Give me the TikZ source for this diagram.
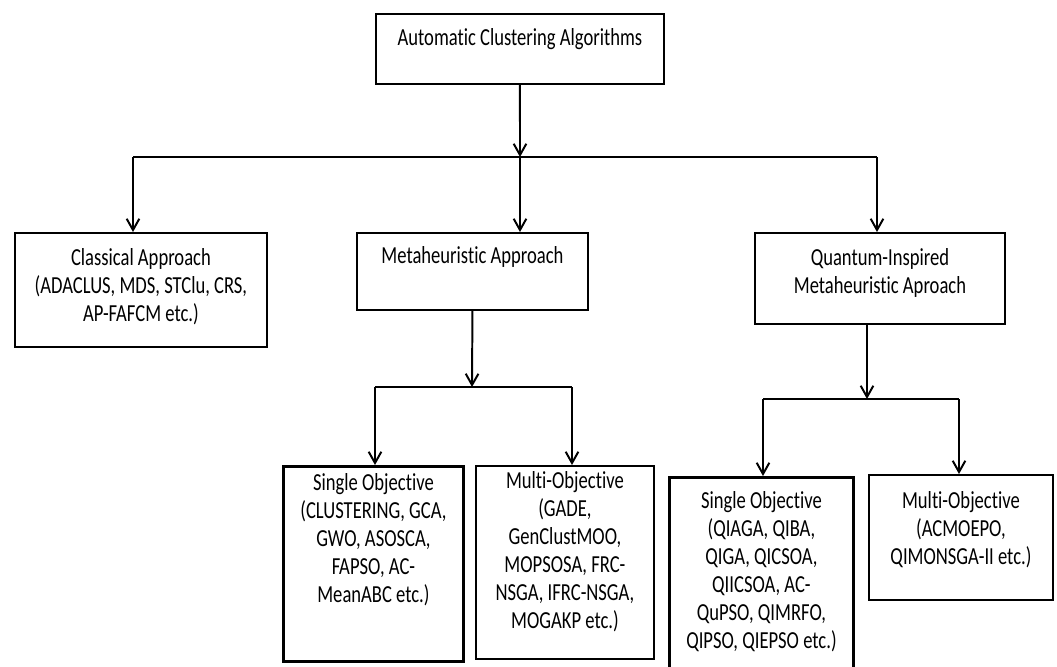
\documentclass[tikz,border=0pt]{standalone}
\usepackage{fontspec}
\setmainfont{Carlito}[Ligatures=NoCommon, FakeStretch=0.76]
\usetikzlibrary{arrows.meta}
\newcommand{\boxtext}[4]{\parbox[c][#2][t]{#1}{\centering\vspace*{#3}#4\par}}

\begin{document}
\begin{tikzpicture}[x=0.025cm, y=-0.025cm,
	box/.style={draw, line width=1.3pt, inner sep=0pt, anchor=north west},
	thickbox/.style={box, line width=2pt},
	link/.style={line width=1.4pt},
	arr/.style={link, -{Straight Barb[length=8pt, width=9pt]}},
	font=\fontsize{17.4}{19.9}\selectfont]
	\useasboundingbox (0,0) rectangle (1057,666);

	% Define the boxes with specific positions
	\node[box] (root) at (375,13) {\boxtext{7.2cm}{1.75cm}{10.3pt}{Automatic Clustering Algorithms}};
	\node[box] (classical) at (14,232) {\boxtext{6.3cm}{2.85cm}{11.1pt}{Classical Approach\\(ADACLUS, MDS, STClu, CRS,\\AP-FAFCM etc.)}};
	\node[box] (meta) at (356,232) {\boxtext{5.775cm}{1.925cm}{9.7pt}{Metaheuristic Approach}};
	\node[box] (quantum) at (754,232) {\boxtext{6.25cm}{2.275cm}{11.1pt}{Quantum-Inspired\\Metaheuristic Aproach}};
	\node[thickbox] (msingle) at (282,465) {\boxtext{4.5cm}{4.875cm}{5.3pt}{Single Objective\\(CLUSTERING, GCA,\\GWO, ASOSCA,\\FAPSO, AC-\\MeanABC etc.)}};
	\node[box] (mmulti) at (475,465) {\boxtext{4.45cm}{4.825cm}{4pt}{Multi-Objective\\(GADE,\\GenClustMOO,\\MOPSOSA, FRC-\\NSGA, IFRC-NSGA,\\MOGAKP etc.)}};
	\node[thickbox] (qsingle) at (668,476) {\boxtext{4.6cm}{4.9cm}{10.3pt}{Single Objective\\(QIAGA, QIBA,\\QIGA, QICSOA,\\QIICSOA, AC-\\QuPSO, QIMRFO,\\QIPSO, QIEPSO etc.)}};
	\node[box] (qmulti) at (868,474) {\boxtext{4.6cm}{3.125cm}{11.8pt}{Multi-Objective\\(ACMOEPO,\\QIMONSGA-II etc.)}};

	% First level split
	\coordinate (split) at (520,157);
	\coordinate (left) at (133,157);
	\coordinate (right) at (877,157);
	\draw[arr] (root.south) -- (split);
	\draw[link] (left) -- (right);
	\draw[arr] (left) -- (left |- classical.north);
	\draw[arr] (split) -- (split |- meta.north);
	\draw[arr] (right) -- (right |- quantum.north);

	% Metaheuristic split
	\coordinate (msplit) at (472,387);
	\coordinate (mleft) at (375,387);
	\coordinate (mright) at (572,387);
	\draw[arr] (meta.south) -- (msplit);
	\draw[link] (mleft) -- (mright);
	\draw[arr] (mleft) -- (mleft |- msingle.north);
	\draw[arr] (mright) -- (mright |- mmulti.north);

	% Quantum-inspired split
	\coordinate (qsplit) at (867,399);
	\coordinate (qleft) at (763,399);
	\coordinate (qright) at (959,399);
	\draw[arr] (qsplit |- quantum.south) -- (qsplit);
	\draw[link] (qleft) -- (qright);
	\draw[arr] (qleft) -- (qleft |- qsingle.north);
	\draw[arr] (qright) -- (qright |- qmulti.north);
\end{tikzpicture}
\end{document}
